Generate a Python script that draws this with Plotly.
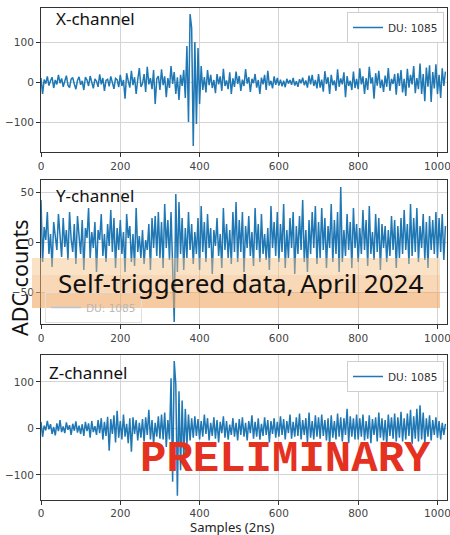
import plotly.graph_objects as go

# sample index (every 4th sample of the 1024-sample trace)
samples = list(range(0, 1024, 4))

x_channel = [
    10, -30, 6, -4, 14, -9, 3, 12, -15, 5, -6, 18, -3, 9, -12, 2, 16, -8, -14, 7, 11, -5, -18, 4, 13,
    -7, 3, -20, 12, 5, -10, 15, -4, -16, 8, 2, -12, 19, -6, 10, -22, 4, 7, -11, 14, -3, -17, 9, 6, -13,
    18, -10, 5, -42, 22, 3, -14, 28, -8, 12, -30, 6, 35, -12, -4, 20, -25, 38, -6, 10, -18, 30, -55, 8, 15,
    -20, 32, -8, 14, -38, 10, -15, 40, -5, 25, -30, 12, -45, 18, -10, 30, -40, 90, -100, 170, 135, -160, 100, -105, 85,
    -55, 40, -20, 12, -26, 30, -8, 18, -15, 5, -28, 20, -6, 14, -22, 33, -10, 4, -18, 24, -30, 9, -12, 26, -5,
    15, -22, 6, -10, 32, -4, 12, -25, 8, -3, 20, -14, 5, -30, 11, -6, 18, -20, 28, -9, 3, -16, 14, -7, 10,
    -9, 6, -11, 3, -13, 8, -4, 5, -7, 10, -9, 2, -12, 7, -3, 11, -8, 4, -14, 16, -6, 18, -10, 5, -16,
    20, -14, 6, -24, 27, -5, 12, -30, 18, -8, 4, -22, 32, -12, 9, -6, 24, -38, 15, -10, 3, -20, 26, -15, 8,
    -18, 34, -6, 14, -30, 10, -20, 38, -4, 12, -42, 22, -9, 28, -15, 6, -25, 16, -12, 35, -22, 8, -5, 20, -32,
    22, -10, 30, -26, 8, -35, 33, -14, 18, -6, 40, -28, 10, -18, 46, -30, 20, -48, 36, -12, 42, -50, 25, -16, 44,
    -30, 18, -40, 34, -10, 26,
]

y_channel = [
    42, -20, 15, 2, 30, -12, 8, -25, 20, 5, -8, 28, 10, -15, 24, -5, 12, -18, 30, 3, -10, 18, -22, 26, 6,
    -12, 22, -28, 14, 4, 34, -16, 10, -6, 20, -30, 12, 2, 28, -14, 8, -20, 18, -4, 32, -10, 24, -26, 14, -8,
    22, -12, 10, -30, 28, 4, 16, -20, 8, -24, 34, -10, 6, -16, 12, -22, 2, -8, 18, -28, 24, -6, 26, -14, 30,
    -16, 20, -26, 38, -6, 22, -18, 30, -36, -80, 48, -30, 40, -12, 24, -28, 14, -16, 30, -8, 18, -22, 10, -12, 24,
    -28, 36, -10, 20, -20, 28, -6, 14, -32, 12, -4, 24, -14, 8, -26, 34, -8, 18, -16, 12, -22, 30, -10, 40, -20,
    22, -10, 30, -30, 16, -6, 26, -14, 10, -24, 34, -8, 18, -20, 28, -12, 8, -18, 14, -28, 36, -6, 20, -14, 30,
    -20, 18, -10, 38, -26, 12, -16, 24, -6, 30, -32, 16, -12, 26, -8, 42, -20, 12, -30, 22, -12, 30, -6, 36, -22,
    20, -16, 34, -8, 24, -26, 16, -6, 38, -20, 22, -12, 30, -30, 55, -20, 12, -14, 28, -8, 20, -26, 34, -6, 18,
    -20, 14, -12, 32, -8, 22, -24, 36, -12, 10, -18, 28, -10, 24, -28, 18, -6, 16, -20, 12, -14, 26, -8, 22, -26,
    16, -16, 24, -12, 32, -8, 18, -22, 38, -14, 24, -10, 34, -20, 16, -6, 28, -18, 20, -26, 26, -8, 22, -12, 30,
    -16, 24, -10, 28, -18, 16,
]

z_channel = [
    14, -18, 6, -4, 16, -2, 9, -12, 3, -15, 11, -6, 18, -8, 4, -10, 13, -3, 7, -14, 10, -5, 15, -9, 6,
    -12, 9, -16, 14, -6, 11, -20, 16, -8, 5, -14, 18, -10, 22, -24, 14, -16, 25, -48, 20, -12, 28, -30, 38, -20,
    16, -24, 30, -18, 10, -32, 22, -50, 24, -12, 18, -26, 12, -20, 20, -28, 24, -14, 40, -24, 18, -34, 12, -18, 26,
    -22, 30, -24, 34, -40, 18, -24, 108, -115, 145, 95, -145, 80, -90, 60, -68, 42, -36, 30, -26, 22, -20, 26, -16, 20,
    -24, 16, -18, 30, -12, 22, -26, 12, -16, 24, -22, 18, -30, 14, -10, 26, -20, 16, -24, 8, -14, 22, -18, 12, -26,
    20, -14, 24, -18, 12, -26, 16, -10, 28, -22, 14, -18, 22, -24, 10, -16, 24, -14, 18, -30, 16, -12, 22, -20, 14,
    -18, 26, -14, 20, -24, 16, -10, 30, -22, 14, -18, 24, -16, 32, -24, 18, -14, 22, -30, 34, -20, 16, -24, 28, -18,
    24, -22, 30, -16, 18, -26, 22, -34, 28, -20, 16, -24, 32, -18, 24, -28, 22, -14, 42, -32, 26, -18, 22, -24, 30,
    -24, 22, -18, 30, -26, 16, -22, 28, -32, 20, -14, 24, -28, 34, -20, 22, -26, 18, -34, 30, -16, 24, -22, 32, -28,
    24, -20, 36, -28, 22, -24, 32, -16, 40, -34, 26, -22, 42, -28, 50, -24, 34, -32, 22, -18, 28, -26, 18, -14, 24,
    -20, 16, -24, 12, -14, 10,
]

x_ticks = [0, 200, 400, 600, 800, 1000]
trace_name = "DU: 1085"
panel_titles = ["X-channel", "Y-channel", "Z-channel"]

W, H = 450, 535
BLUE = "#1f77b4"

def py(px):
    return 1 - px / H

def pxx(px):
    return px / W

fig = go.Figure()

panels = [
    dict(data=x_channel, top=8, bottom=152, yr=[-175, 185], yt=[-100, 0, 100], legend="legend"),
    dict(data=y_channel, top=180, bottom=324, yr=[-82, 62], yt=[-50, 0, 50], legend="legend2"),
    dict(data=z_channel, top=355, bottom=499.5, yr=[-153, 158], yt=[-100, 0, 100], legend="legend3"),
]

tickfont = dict(family="DejaVu Sans", size=10.5, color="#444")

for i, p in enumerate(panels):
    n = "" if i == 0 else str(i + 1)
    show = i != 1
    fig.add_trace(go.Scatter(
        x=samples, y=p["data"], mode="lines", name=trace_name,
        line=dict(color=BLUE, width=1.5),
        xaxis="x" + n, yaxis="y" + n, legend=p["legend"], showlegend=show,
    ))
    common = dict(showgrid=True, gridcolor="#d4d4d4", gridwidth=1,
                  showline=True, linecolor="#333", linewidth=1, mirror=True,
                  ticks="outside", ticklen=4, tickcolor="#333",
                  tickfont=tickfont, zeroline=False, automargin=False,
                  ticklabeloverflow="allow")
    fig.layout["xaxis" + n] = dict(domain=[pxx(41), pxx(447)], range=[0, 1024],
                                   tickvals=x_ticks, anchor="y" + n, **common)
    fig.layout["yaxis" + n] = dict(domain=[py(p["bottom"]), py(p["top"])], range=p["yr"],
                                   tickvals=p["yt"], anchor="x" + n, **common)

# faded legend entry for the middle panel (behind the band)
fig.add_trace(go.Scatter(
    x=[None], y=[None], mode="lines", name=trace_name,
    line=dict(color="#b9c6cf", width=1.5), xaxis="x2", yaxis="y2",
    legend="legend2", showlegend=True,
))

legend_style = dict(bgcolor="white", bordercolor="#cfcfcf", borderwidth=1,
                    font=dict(family="DejaVu Sans", size=10.5, color="#333"),
                    xanchor="right", yanchor="top", itemwidth=30,
                    tracegroupgap=0)
fig.update_layout(
    legend=dict(x=pxx(444), y=py(12), **legend_style),
    legend3=dict(x=pxx(444), y=py(361), **legend_style),
    legend2=dict(x=pxx(45), y=py(323), xanchor="left", yanchor="bottom",
                 bgcolor="rgba(255,255,255,0)", bordercolor="#e0e0e0", borderwidth=1,
                 font=dict(family="DejaVu Sans", size=10.5, color="#b8b8b8"), itemwidth=30),
)

# orange band (lighter at the top, deeper at the bottom)
band_rows = [(258, 275, "rgba(244,190,130,0.45)"),
             (275, 292, "rgba(242,180,115,0.52)"),
             (292, 308, "rgba(240,168,100,0.6)")]
for top, bot, col in band_rows:
    fig.add_shape(type="rect", xref="paper", yref="paper",
                  x0=pxx(32), x1=pxx(440), y0=py(bot), y1=py(top),
                  fillcolor=col, line=dict(width=0), layer="above")

annotations = []
for title, (xp, yp) in zip(panel_titles, [(54, 19), (54, 196), (47, 372)]):
    annotations.append(dict(text=title, x=pxx(xp), y=py(yp), xref="paper", yref="paper",
                            xanchor="left", yanchor="middle", showarrow=False,
                            font=dict(family="Noto Sans", size=17, color="#111")))
annotations += [
    dict(text="Self-triggered data, April 2024", x=pxx(240), y=py(283), xref="paper", yref="paper",
         xanchor="center", yanchor="middle", showarrow=False,
         font=dict(family="Noto Sans", size=26, color="#111")),
    dict(text="ADC counts", x=pxx(19), y=py(278), xref="paper", yref="paper",
         xanchor="center", yanchor="middle", showarrow=False, textangle=-90,
         font=dict(family="Noto Sans", size=21.5, color="#111")),
    dict(text="Samples (2ns)", x=pxx(232), y=py(527), xref="paper", yref="paper",
         xanchor="center", yanchor="middle", showarrow=False,
         font=dict(family="Noto Sans", size=13, color="#222")),
    dict(text="<b>PRELIMINARY</b>", x=pxx(285), y=py(459), xref="paper", yref="paper",
         xanchor="center", yanchor="middle", showarrow=False,
         font=dict(family="Liberation Mono", size=44, color="#e5311f")),
]

fig.update_layout(width=W, height=H, margin=dict(l=0, r=0, t=0, b=0),
                  paper_bgcolor="white", plot_bgcolor="white",
                  annotations=annotations)

# remove the browser's default page margin so the figure sits at the window's corner
fig.write_html("out.html", config={"displayModeBar": False},
               post_script="document.body.style.margin='0';document.body.style.overflow='hidden';")
